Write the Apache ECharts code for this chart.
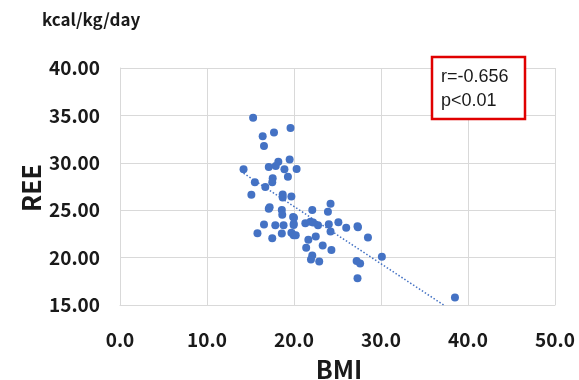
<!DOCTYPE html>
<html>
<head>
<meta charset="utf-8">
<script src="https://cdn.jsdelivr.net/npm/echarts@6/dist/echarts.min.js"></script>
<style>html,body{margin:0;padding:0;background:#fff;}#c{width:579px;height:380px;}</style>
</head>
<body>
<div id="c"></div>
<script>
const bmi = [15.3,19.6,16.4,17.7,16.55,19.5,14.2,17.1,17.9,18.2,18.9,20.3,19.3,17.55,17.5,15.5,16.7,15.1,18.7,18.7,19.7,17.1,17.2,18.6,18.65,22.1,24.2,23.9,19.9,20.0,16.55,17.85,18.8,19.97,19.96,21.3,21.9,22.2,22.76,24.0,25.1,26.0,27.3,27.35,24.2,15.8,17.5,18.6,19.7,19.96,20.2,22.5,21.65,28.5,21.4,23.3,24.3,22.1,21.95,22.9,30.1,27.2,27.6,27.3,38.5];
const ree = [34.76,33.68,32.8,33.19,31.76,30.36,29.31,29.56,29.66,30.1,29.31,29.35,28.54,28.37,27.95,27.95,27.46,26.62,26.66,26.34,26.45,25.16,25.3,25.02,24.53,25.02,25.68,24.84,24.28,24.2,23.48,23.41,23.41,23.58,23.45,23.62,23.79,23.69,23.41,23.51,23.72,23.16,23.3,23.2,22.75,22.58,22.05,22.54,22.61,22.36,22.36,22.22,21.87,22.12,21.03,21.28,20.79,20.23,19.81,19.6,20.09,19.64,19.39,17.82,15.8];
const trendX = [14.2, 37.2];
const trendY = [28.9, 15.0];
const xTicks = {min: 0, max: 50, interval: 10};
const yTicks = {min: 15, max: 40, interval: 5};
const statLines = ['r=-0.656', 'p<0.01'];

const chart = echarts.init(document.getElementById('c'), null, {renderer: 'canvas'});
const font = '"Noto Sans CJK JP", "Noto Sans", sans-serif';
chart.setOption({
  animation: false,
  grid: {left: 120, right: 24, top: 68, bottom: 75, containLabel: false},
  xAxis: {
    type: 'value', min: xTicks.min, max: xTicks.max, interval: xTicks.interval,
    axisLine: {show: true, lineStyle: {color: '#d9d9d9', width: 1}},
    axisTick: {show: false},
    splitLine: {show: true, lineStyle: {color: '#d9d9d9', width: 1}},
    axisLabel: {formatter: v => v.toFixed(1), fontFamily: font, fontWeight: 'bold', fontSize: 19, color: '#1a1a1a', margin: 25}
  },
  yAxis: {
    type: 'value', min: yTicks.min, max: yTicks.max, interval: yTicks.interval,
    axisLine: {show: true, lineStyle: {color: '#d9d9d9', width: 1}},
    axisTick: {show: false},
    splitLine: {show: true, lineStyle: {color: '#d9d9d9', width: 1}},
    axisLabel: {formatter: v => v.toFixed(2), fontFamily: font, fontWeight: 'bold', fontSize: 19, color: '#1a1a1a', margin: 20}
  },
  series: [
    {
      type: 'line', data: trendX.map((x, i) => [x, trendY[i]]), symbol: 'none',
      lineStyle: {color: '#4472C4', width: 1.5, type: [1.5, 2]}, z: 1, silent: true
    },
    {
      type: 'scatter', data: bmi.map((x, i) => [x, ree[i]]), symbol: 'circle', symbolSize: 8,
      itemStyle: {color: '#4472C4', opacity: 1}, z: 2
    }
  ],
  graphic: [
    {type: 'text', left: 42, top: 11, style: {text: 'kcal/kg/day', font: 'bold 17px ' + font, fill: '#1a1a1a'}},
    {type: 'text', x: 31, y: 188, rotation: Math.PI / 2, style: {text: 'REE', font: 'bold 25px ' + font, fill: '#1a1a1a', align: 'center', verticalAlign: 'middle'}},
    {type: 'text', x: 339, y: 369, style: {text: 'BMI', font: 'bold 25px ' + font, fill: '#1a1a1a', align: 'center', verticalAlign: 'middle'}},
    {type: 'rect', shape: {x: 432, y: 57, width: 93, height: 62}, style: {fill: '#fff', stroke: '#e00000', lineWidth: 2.5}, z: 10},
    {type: 'text', x: 441, y: 77, style: {text: statLines[0], font: '18px "Liberation Sans", sans-serif', fill: '#1a1a1a', verticalAlign: 'middle'}, z: 11},
    {type: 'text', x: 441, y: 101, style: {text: statLines[1], font: '18px "Liberation Sans", sans-serif', fill: '#1a1a1a', verticalAlign: 'middle'}, z: 11}
  ]
});
</script>
</body>
</html>
